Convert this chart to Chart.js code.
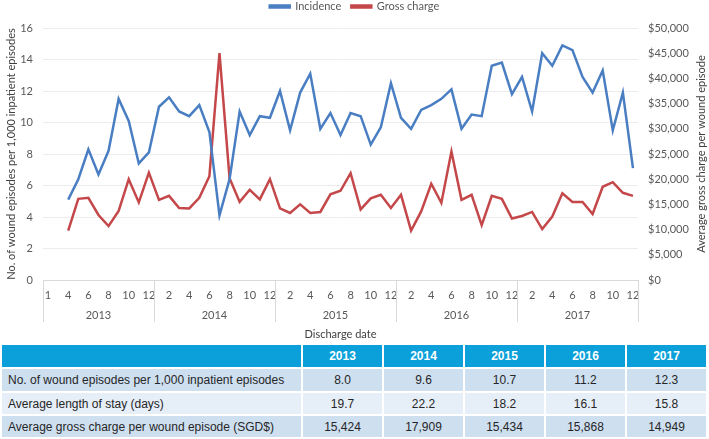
<!DOCTYPE html>
<html>
<head>
<meta charset="UTF-8"/>
<style>
html, body {
 width: 709px;
 height: 439px;
 margin: 0px;
 border: 0;
 overflow: hidden;
 background-color: #ffffff;
}
#myChart { position: absolute; left: 0; top: -16px; }
#summary {
 position: absolute;
 left: 0;
 top: 343px;
 border-collapse: separate;
 border-spacing: 2px;
 font-family: "Liberation Sans", Arial, sans-serif;
 font-size: 12px;
 color: #262626;
}
#summary td, #summary th { padding: 0; text-align: center; }
#summary th { background-color: #0ba0d9; color: #ffffff; font-weight: bold; height: 22px; }
#summary td.lab { text-align: left; padding-left: 6px; }
#summary tr.odd td { background-color: #cedff0; }
#summary tr.even td { background-color: #e6eef8; }
</style>
<script src="https://cdn.jsdelivr.net/npm/chart.js@4.4.0/dist/chart.umd.min.js"></script>
<script type="text/javascript">
// monthly x categories (2013 starts with an empty January / March slot)
var months = ['1','3','4','5','6','7','8','9','10','11','12',
    '1','2','3','4','5','6','7','8','9','10','11','12',
    '1','2','3','4','5','6','7','8','9','10','11','12',
    '1','2','3','4','5','6','7','8','9','10','11','12',
    '1','2','3','4','5','6','7','8','9','10','11','12'];
var years = ['2013', '2014', '2015', '2016', '2017'];
var yearLengths = [11, 12, 12, 12, 12];

// wound episodes per 1,000 inpatient episodes
var incidence = [null, null, 5.1, 6.4, 8.3, 6.7, 8.2, 11.5, 10.1, 7.4, 8.1,
    11.0, 11.6, 10.7, 10.4, 11.1, 9.4, 4.1, 6.4, 10.7, 9.2, 10.4, 10.3,
    12.0, 9.5, 11.9, 13.1, 9.6, 10.6, 9.2, 10.6, 10.4, 8.6, 9.7, 12.5,
    10.3, 9.6, 10.8, 11.1, 11.5, 12.1, 9.6, 10.5, 10.4, 13.6, 13.8, 11.8,
    12.9, 10.7, 14.4, 13.6, 14.9, 14.6, 12.9, 11.9, 13.3, 9.5, 11.9, 7.1];

// average gross charge per wound episode ($)
var grossCharge = [null, null, 9800, 16100, 16300, 12900, 10700, 13700, 20000, 15400, 21300,
    15900, 16700, 14300, 14200, 16300, 20600, 45000, 20200, 15500, 17900, 16000, 20000,
    14200, 13300, 15000, 13300, 13500, 17000, 17700, 21200, 14000, 16200, 16900, 14300,
    16900, 9800, 13600, 19100, 15300, 25500, 15900, 16900, 10900, 16700, 16100, 12200,
    12700, 13500, 10100, 12600, 17200, 15500, 15500, 13100, 18500, 19400, 17300, 16700];

// summary table
var tableYears = ['2013', '2014', '2015', '2016', '2017'];
var tableRows = ['No. of wound episodes per 1,000 inpatient episodes',
    'Average length of stay (days)',
    'Average gross charge per wound episode (SGD$)'];
var tableValues = [
    ['8.0', '9.6', '10.7', '11.2', '12.3'],
    ['19.7', '22.2', '18.2', '16.1', '15.8'],
    ['15,424', '17,909', '15,434', '15,868', '14,949']];

var FONT = 'Lato, "Open Sans", sans-serif';
var TXT = '#595959';

// year labels and separators under the month ticks, plus the right axis title
var yearBands = {
    id: 'yearBands',
    afterLayout: function(chart) {
        // lift the legend a little closer to the top edge
        if (chart.legend) {
            chart.legend.top -= 6;
            chart.legend.bottom -= 6;
        }
    },
    afterDraw: function(chart) {
        var x = chart.scales.x;
        var ctx = chart.ctx;
        var w = x.width / months.length;
        var area = chart.chartArea;
        ctx.save();
        ctx.strokeStyle = '#d9d9d9';
        ctx.lineWidth = 1;
        ctx.fillStyle = TXT;
        ctx.font = '11px ' + FONT;
        ctx.textAlign = 'center';
        ctx.textBaseline = 'middle';
        var start = 0;
        for (var k = 0; k < years.length; k++) {
            var l = x.getPixelForValue(start) - w / 2;
            var r = x.getPixelForValue(start + yearLengths[k] - 1) + w / 2;
            ctx.beginPath();
            ctx.moveTo(Math.round(l) + 0.5, area.bottom);
            ctx.lineTo(Math.round(l) + 0.5, area.bottom + 42);
            if (k == years.length - 1) {
                ctx.moveTo(Math.round(r) + 0.5, area.bottom);
                ctx.lineTo(Math.round(r) + 0.5, area.bottom + 42);
            }
            ctx.stroke();
            ctx.fillText(years[k], (l + r) / 2, area.bottom + 35);
            start += yearLengths[k];
        }
        // right axis title, reading bottom to top like the left one
        ctx.translate(chart.width - 8, (area.top + area.bottom) / 2);
        ctx.rotate(-Math.PI / 2);
        ctx.fillStyle = '#404040';
        ctx.fillText('Average gross charge per wound episode', 0, 0);
        ctx.restore();
    }
};

function init() {
    buildTable();

    var ctx = document.getElementById('myChart').getContext('2d');
    new Chart(ctx, {
        type: 'line',
        data: {
            labels: months,
            datasets: [{
                label: 'Incidence',
                data: incidence,
                yAxisID: 'y',
                borderColor: '#4a7ec2',
                backgroundColor: '#4a7ec2',
                borderWidth: 2.5,
                pointRadius: 0,
                tension: 0
            }, {
                label: 'Gross charge',
                data: grossCharge,
                yAxisID: 'y1',
                borderColor: '#c4474a',
                backgroundColor: '#c4474a',
                borderWidth: 2.5,
                pointRadius: 0,
                tension: 0
            }]
        },
        options: {
            responsive: false,
            animation: false,
            layout: { padding: 0 },
            plugins: {
                legend: {
                    display: true,
                    position: 'top',
                    labels: {
                        color: TXT,
                        font: { family: FONT, size: 11 },
                        boxWidth: 20,
                        boxHeight: 2,
                        padding: 10
                    }
                },
                tooltip: { enabled: false }
            },
            scales: {
                x: {
                    offset: true,
                    grid: { display: false },
                    border: { display: true, color: '#d9d9d9' },
                    ticks: {
                        color: TXT,
                        font: { family: FONT, size: 11 },
                        autoSkip: false,
                        maxRotation: 0,
                        padding: 1,
                        callback: function(v, i) { return i % 2 == 0 ? months[i] : ''; }
                    },
                    title: {
                        display: true,
                        text: 'Discharge date',
                        color: '#404040',
                        font: { family: FONT, size: 11 },
                        padding: { top: 0, bottom: 1 }
                    },
                    afterFit: function(s) { s.height = 62; }
                },
                y: {
                    position: 'left',
                    min: 0,
                    max: 16,
                    ticks: {
                        stepSize: 2,
                        color: TXT,
                        font: { family: FONT, size: 11 },
                        padding: 10
                    },
                    grid: { color: '#ececec', drawTicks: false },
                    border: { display: false },
                    title: {
                        display: true,
                        text: 'No. of wound episodes per 1,000 inpatient episodes',
                        color: '#404040',
                        font: { family: FONT, size: 11 },
                        padding: { top: 5, bottom: 0 }
                    },
                    afterFit: function(s) { s.width = 43; s.paddingTop = 44; }
                },
                y1: {
                    position: 'right',
                    min: 0,
                    max: 50000,
                    ticks: {
                        stepSize: 5000,
                        color: TXT,
                        font: { family: FONT, size: 11 },
                        padding: 10,
                        callback: function(v) { return '$' + v.toLocaleString('en-US'); }
                    },
                    grid: { display: false, drawTicks: false },
                    border: { display: false },
                    afterFit: function(s) { s.width = 71; }
                }
            }
        },
        plugins: [yearBands]
    });
}

function buildTable() {
    var t = document.getElementById('summary');
    var html = '<tr><th style="width:299px"></th>';
    for (var i = 0; i < tableYears.length; i++) {
        html += '<th style="width:79px">' + tableYears[i] + '</th>';
    }
    html += '</tr>';
    var heights = [22, 21, 21];
    for (var r = 0; r < tableRows.length; r++) {
        html += '<tr class="' + (r % 2 == 0 ? 'odd' : 'even') + '" style="height:' + heights[r] + 'px">';
        html += '<td class="lab">' + tableRows[r] + '</td>';
        for (var c = 0; c < tableValues[r].length; c++) {
            html += '<td>' + tableValues[r][c] + '</td>';
        }
        html += '</tr>';
    }
    t.innerHTML = html;
}
</script>
<title>Chart</title>
</head>

<body onload="JavaScript:init();">
<canvas id="myChart" width="709" height="358"></canvas>
<table id="summary"></table>
</body>
</html>
